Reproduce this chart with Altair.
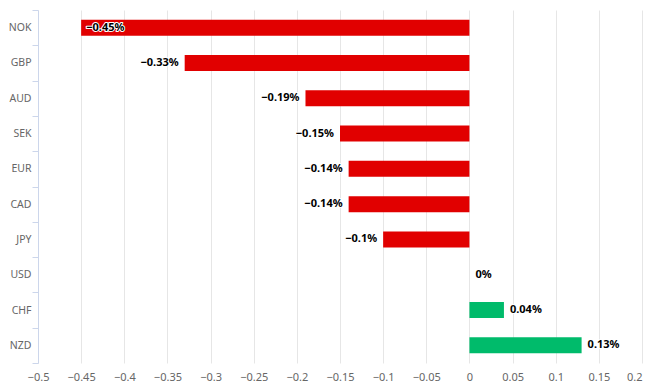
import altair as alt
import pandas as pd

currencies = ["NOK", "GBP", "AUD", "SEK", "EUR", "CAD", "JPY", "USD", "CHF", "NZD"]
values = [-0.45, -0.33, -0.19, -0.15, -0.14, -0.14, -0.1, 0.0, 0.04, 0.13]
x_ticks = [-0.5, -0.45, -0.4, -0.35, -0.3, -0.25, -0.2, -0.15, -0.1, -0.05,
           0, 0.05, 0.1, 0.15, 0.2]

RED = "#e10000"
GREEN = "#00bb6b"
FONT = "Noto Sans"

df = pd.DataFrame({"currency": currencies, "value": values})

y_enc = alt.Y(
    "currency:N", sort=currencies, title=None,
    scale=alt.Scale(paddingInner=0, paddingOuter=0),
    axis=alt.Axis(tickBand="extent", domainColor="#ccd6eb", tickColor="#ccd6eb",
                  tickSize=6, labelPadding=1, labelColor="#666666", labelFontSize=10.5,
                  labelFont=FONT, grid=False),
)
x_enc = alt.X(
    "value:Q", title=None,
    scale=alt.Scale(domain=[-0.5, 0.2], nice=False, zero=True),
    axis=alt.Axis(values=x_ticks, format="~g", grid=True, gridColor="#e6e6e6",
                  domain=False, ticks=False, labelColor="#666666", labelFontSize=11,
                  labelFont=FONT, labelPadding=8,
                  labelAlign=alt.expr("datum.value > 0.19 ? 'right' : 'center'")),
)

base = alt.Chart(df).encode(y=y_enc, x=x_enc)

bars = base.mark_bar(size=16).encode(
    color=alt.condition("datum.value < 0", alt.value(RED), alt.value(GREEN))
)


def label_layers(flt, align, dx):
    b = base.transform_filter(flt).transform_calculate(
        lbl="format(datum.value, '~g') + '%'"
    )
    outline = b.mark_text(align=align, dx=dx, font=FONT, fontSize=11, fontWeight="bold",
                          stroke="white", strokeWidth=2, strokeJoin="round",
                          fill="white").encode(text="lbl:N")
    txt = b.mark_text(align=align, dx=dx, font=FONT, fontSize=11, fontWeight="bold",
                      color="#000000").encode(text="lbl:N")
    return [outline, txt]


layers = [bars]
layers += label_layers("datum.value < 0 && datum.value > -0.4", "right", -6)
layers += label_layers("datum.value <= -0.4", "left", 5)
layers += label_layers("datum.value >= 0", "left", 6)

chart = alt.layer(*layers).properties(
    width=604, height=353, autosize="none",
    padding={"left": 30, "top": 2, "right": 6, "bottom": 22},
).configure_view(stroke=None)

chart.save("out.html", embed_options={"renderer": "svg", "actions": False})
